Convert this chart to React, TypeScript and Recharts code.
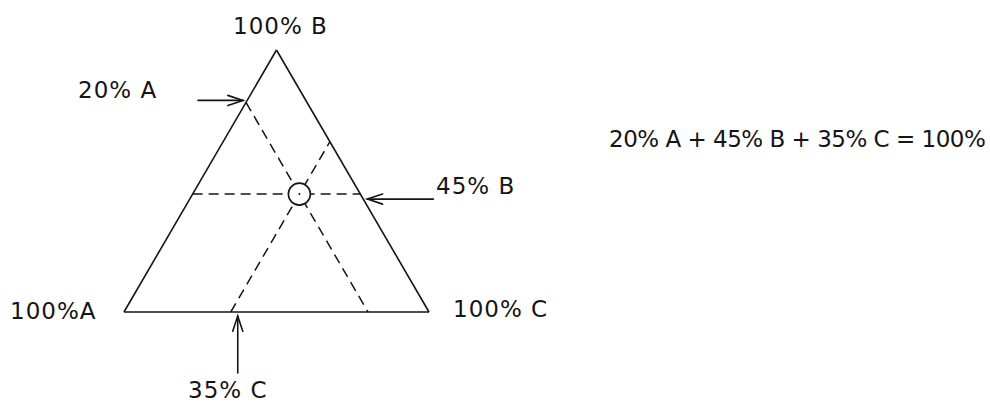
import React from 'react';
import { ComposedChart, XAxis, YAxis, ReferenceLine, Scatter, Customized } from 'recharts';

// Ternary diagram data (percent A, percent B, percent C)
const componentNames = ['A', 'B', 'C'];
const vertexLabels = ['100%A', '100% B', '100% C'];
const sampleComposition = [20, 45, 35];
const readingLabels = ['20% A', '45% B', '35% C'];
const equationText = '20% A + 45% B + 35% C = 100%';

// layout constants (pixels)
const W = 990;
const H = 404;
const MARGIN = { top: 50, right: 561, bottom: 92, left: 124 };
const PX_X = W - MARGIN.left - MARGIN.right; // px per unit of x
const PX_Y = H - MARGIN.top - MARGIN.bottom; // px per unit of y
const INK = '#151515';
const FONT = '"DejaVu Sans", sans-serif';

type Pt = { x: number; y: number };
const tern = (a: number, b: number, c: number): Pt => {
  const s = a + b + c;
  return { x: (b / 2 + c) / s, y: b / s };
};
const offset = (p: Pt, dxPx: number, dyPx: number): Pt => ({ x: p.x + dxPx / PX_X, y: p.y - dyPx / PX_Y });

const [pa, pb, pc] = sampleComposition;
const vA = tern(100, 0, 0);
const vB = tern(0, 100, 0);
const vC = tern(0, 0, 100);
const sample = tern(pa, pb, pc);

const edges: [Pt, Pt][] = [
  [vA, vB],
  [vB, vC],
  [vA, vC],
];

const dashed: [Pt, Pt][] = [
  [tern(pa, 100 - pa, 0), tern(pa, 0, 100 - pa)],
  [tern(100 - pb, pb, 0), tern(0, pb, 100 - pb)],
  [tern(100 - pc, 0, pc), tern(0, 100 - pc, pc)],
];

const tipA = tern(pa, 100 - pa, 0);
const tipB = tern(0, pb, 100 - pb);
const tipC = tern(100 - pc, 0, pc);
const arrows: [Pt, Pt][] = [
  [offset(tipA, -48, -2), offset(tipA, -3, -2)],
  [offset(tipB, 73, 5), offset(tipB, 7, 5)],
  [offset(tipC, 7, 61), offset(tipC, 7, 4)],
];

const ArrowShape = (props: any) => {
  const { x1, y1, x2, y2 } = props;
  const ang = Math.atan2(y2 - y1, x2 - x1);
  const len = 16;
  const spread = 0.32;
  const h1x = x2 - len * Math.cos(ang - spread);
  const h1y = y2 - len * Math.sin(ang - spread);
  const h2x = x2 - len * Math.cos(ang + spread);
  const h2y = y2 - len * Math.sin(ang + spread);
  return (
    <g stroke={INK} strokeWidth={1.6} fill="none" strokeLinecap="round">
      <line x1={x1} y1={y1} x2={x2} y2={y2} />
      <polyline points={`${h1x},${h1y} ${x2},${y2} ${h2x},${h2y}`} />
    </g>
  );
};

const SampleShape = (props: any) => {
  const { cx, cy } = props;
  return (
    <g>
      <circle cx={cx} cy={cy} r={11} fill="#fff" stroke={INK} strokeWidth={1.6} />
      <circle cx={cx} cy={cy} r={1} fill={INK} />
    </g>
  );
};

const textStyle = { fontFamily: FONT, fontSize: 23, fill: INK, letterSpacing: 1 } as const;

const Texts = () => (
  <g>
    <text x={233} y={34} style={textStyle}>{vertexLabels[1]}</text>
    <text x={10} y={319} style={textStyle}>{vertexLabels[0]}</text>
    <text x={453} y={317} style={textStyle}>{vertexLabels[2]}</text>
    <text x={78} y={98} style={textStyle}>{readingLabels[0]}</text>
    <text x={436} y={194} style={textStyle}>{readingLabels[1]}</text>
    <text x={188} y={398} style={textStyle}>{readingLabels[2]}</text>
    <text x={609} y={147} style={{ ...textStyle, letterSpacing: -0.5 }}>{equationText}</text>
  </g>
);

export default function App() {
  return (
    <div style={{ position: 'absolute', left: 0, top: 0, width: W, height: H, background: '#fff' }}>
      <ComposedChart width={W} height={H} margin={MARGIN}>
        <XAxis type="number" dataKey="x" domain={[0, 1]} hide />
        <YAxis type="number" dataKey="y" domain={[0, 1]} hide />
        {edges.map((seg, i) => (
          <ReferenceLine key={`e${i}`} segment={seg} stroke={INK} strokeWidth={1.6} ifOverflow="visible" />
        ))}
        {dashed.map((seg, i) => (
          <ReferenceLine
            key={`d${i}`}
            segment={seg}
            stroke={INK}
            strokeWidth={1.5}
            strokeDasharray="10 6"
            ifOverflow="visible"
          />
        ))}
        {arrows.map((seg, i) => (
          <ReferenceLine key={`a${i}`} segment={seg} ifOverflow="visible" shape={ArrowShape} />
        ))}
        <Scatter
          name={componentNames.join('-')}
          data={[sample]}
          dataKey="y"
          shape={SampleShape}
          isAnimationActive={false}
        />
        <Customized component={Texts} />
      </ComposedChart>
    </div>
  );
}
